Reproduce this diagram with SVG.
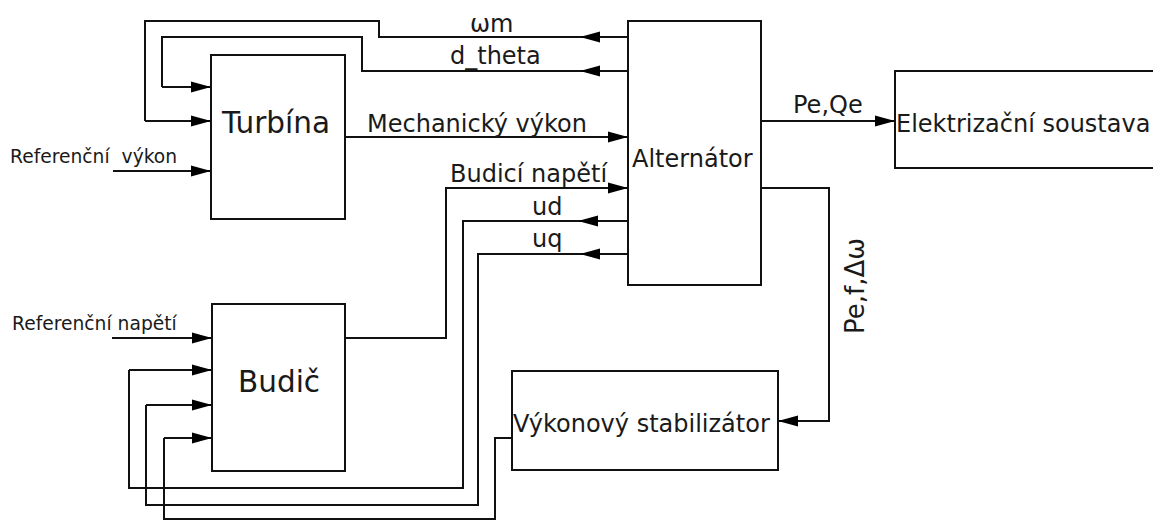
<svg xmlns="http://www.w3.org/2000/svg" width="1153" height="521" viewBox="0 0 1153 521">
<defs>
<marker id="arr" markerUnits="userSpaceOnUse" markerWidth="22" markerHeight="14" refX="20" refY="6" orient="auto">
<path d="M0,0.5 L20,6 L0,11.5 z" fill="#000"/>
</marker>
<style>
.box{fill:#fff;stroke:#111;stroke-width:2}
.ln{fill:none;stroke:#111;stroke-width:2}
.a{marker-end:url(#arr)}
text{font-family:"DejaVu Sans","Liberation Sans",sans-serif;fill:#1a1a1a}
.lbl{font-size:24px}
.big{font-size:29.5px}
.sm{font-size:18.7px}
</style>
</defs>
<rect width="1153" height="521" fill="#fff"/>
<g id="connectors">
<path class="ln a" d="M628,37 H580"/>
<path class="ln" d="M581,37 H379 V21 H145 V121"/>
<path class="ln a" d="M145,121 H211"/>
<path class="ln a" d="M628,71 H580"/>
<path class="ln" d="M581,71 H362 V37 H162 V87"/>
<path class="ln a" d="M162,87 H211"/>
<path class="ln a" d="M113,171 H211"/>
<path class="ln a" d="M345,137 H628"/>
<path class="ln a" d="M345,338 H446 V188 H628"/>
<path class="ln a" d="M628,221 H578"/>
<path class="ln" d="M579,221 H463 V488 H129 V370"/>
<path class="ln a" d="M129,370 H212"/>
<path class="ln a" d="M628,254 H580"/>
<path class="ln" d="M581,254 H478 V505 H146 V405"/>
<path class="ln a" d="M146,405 H212"/>
<path class="ln" d="M512,438 H495 V519 H164 V438"/>
<path class="ln a" d="M164,438 H212"/>
<path class="ln a" d="M112,338 H212"/>
<path class="ln a" d="M761,121 H895"/>
<path class="ln a" d="M761,188 H829 V421 H778"/>
</g>
<g id="turbina">
<rect class="box" x="211" y="55" width="134" height="164"/>
<text class="big" x="222" y="133">Turbína</text>
</g>
<g id="alternator">
<rect class="box" x="628" y="21" width="133" height="264"/>
<text class="lbl" x="632" y="167">Alternátor</text>
</g>
<g id="elektrizacni">
<rect class="box" x="895" y="71" width="280" height="97"/>
<text class="lbl" x="896" y="132">Elektrizační soustava</text>
</g>
<g id="budic">
<rect class="box" x="212" y="304" width="133" height="167"/>
<text class="big" x="238" y="392">Budič</text>
</g>
<g id="stabilizator">
<rect class="box" x="512" y="371" width="266" height="99"/>
<text class="lbl" x="513" y="432">Výkonový stabilizátor</text>
</g>
<g id="labels">
<text class="lbl" x="470" y="32">ωm</text>
<text class="lbl" x="450" y="64">d_theta</text>
<text class="lbl" x="367" y="132">Mechanický výkon</text>
<text class="lbl" x="450" y="182">Budicí napětí</text>
<text class="lbl" x="532" y="215">ud</text>
<text class="lbl" x="532" y="247">uq</text>
<text class="lbl" x="793" y="113">Pe,Qe</text>
<text class="lbl" text-anchor="middle" style="font-size:26px" transform="translate(864,286) rotate(-90)">Pe,f,Δω</text>
<text class="sm" x="10" y="163" word-spacing="6">Referenční výkon</text>
<text class="sm" x="12" y="330">Referenční napětí</text>
</g>
</svg>
